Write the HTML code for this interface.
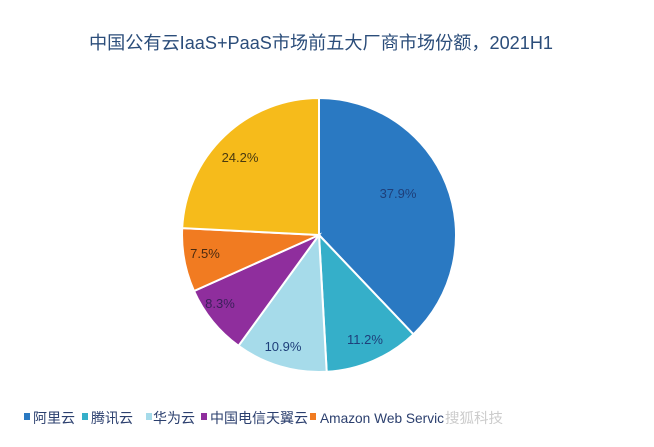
<!DOCTYPE html>
<html><head><meta charset="utf-8"><style>
body{margin:0;background:#fff;}
svg{display:block}
text{font-family:"Liberation Sans","Noto Sans CJK SC",sans-serif;}
</style></head><body>
<svg width="654" height="447" viewBox="0 0 654 447">
<text x="321" y="49" text-anchor="middle" font-size="18" fill="#2b4d7a" textLength="464" lengthAdjust="spacingAndGlyphs">中国公有云IaaS+PaaS市场前五大厂商市场份额，2021H1</text>
<g stroke="#fff" stroke-width="2">
<path d="M319,235 L319,98 A137,137 0 0 1 413.4,334.3 Z" fill="#2a79c2"/>
<path d="M319,235 L413.4,334.3 A137,137 0 0 1 326.7,371.8 Z" fill="#35afc9"/>
<path d="M319,235 L326.7,371.8 A137,137 0 0 1 238.5,345.8 Z" fill="#a6dbea"/>
<path d="M319,235 L238.5,345.8 A137,137 0 0 1 194,291 Z" fill="#8f2e9d"/>
<path d="M319,235 L194,291 A137,137 0 0 1 182.2,228.1 Z" fill="#f17b21"/>
<path d="M319,235 L182.2,228.1 A137,137 0 0 1 319,98 Z" fill="#f6bb1b"/>
</g>
<g font-size="13" text-anchor="middle">
<text x="398" y="198" fill="#1e3f7a">37.9%</text>
<text x="365" y="344" fill="#1e3f7a">11.2%</text>
<text x="283" y="351" fill="#1e3f7a">10.9%</text>
<text x="220" y="308" fill="#3a1f5a">8.3%</text>
<text x="205" y="258" fill="#4a2a10">7.5%</text>
<text x="240" y="162" fill="#4a3a10">24.2%</text>
</g>
<g font-size="14" fill="#2b3f6e">
<rect x="24" y="413" width="6" height="7" fill="#2a79c2"/><text x="33" y="423">阿里云</text>
<rect x="82" y="413" width="6" height="7" fill="#35afc9"/><text x="91" y="423">腾讯云</text>
<rect x="146" y="413" width="6" height="7" fill="#a6dbea"/><text x="153" y="423">华为云</text>
<rect x="201" y="413" width="6" height="7" fill="#8f2e9d"/><text x="210" y="423">中国电信天翼云</text>
<rect x="310" y="413" width="6" height="7" fill="#f17b21"/><text x="320" y="423" textLength="124" lengthAdjust="spacingAndGlyphs">Amazon Web Servic</text>
<text x="445" y="423" fill="#ccc" textLength="58" lengthAdjust="spacingAndGlyphs">搜狐科技</text>
</g>
</svg>
</body></html>
